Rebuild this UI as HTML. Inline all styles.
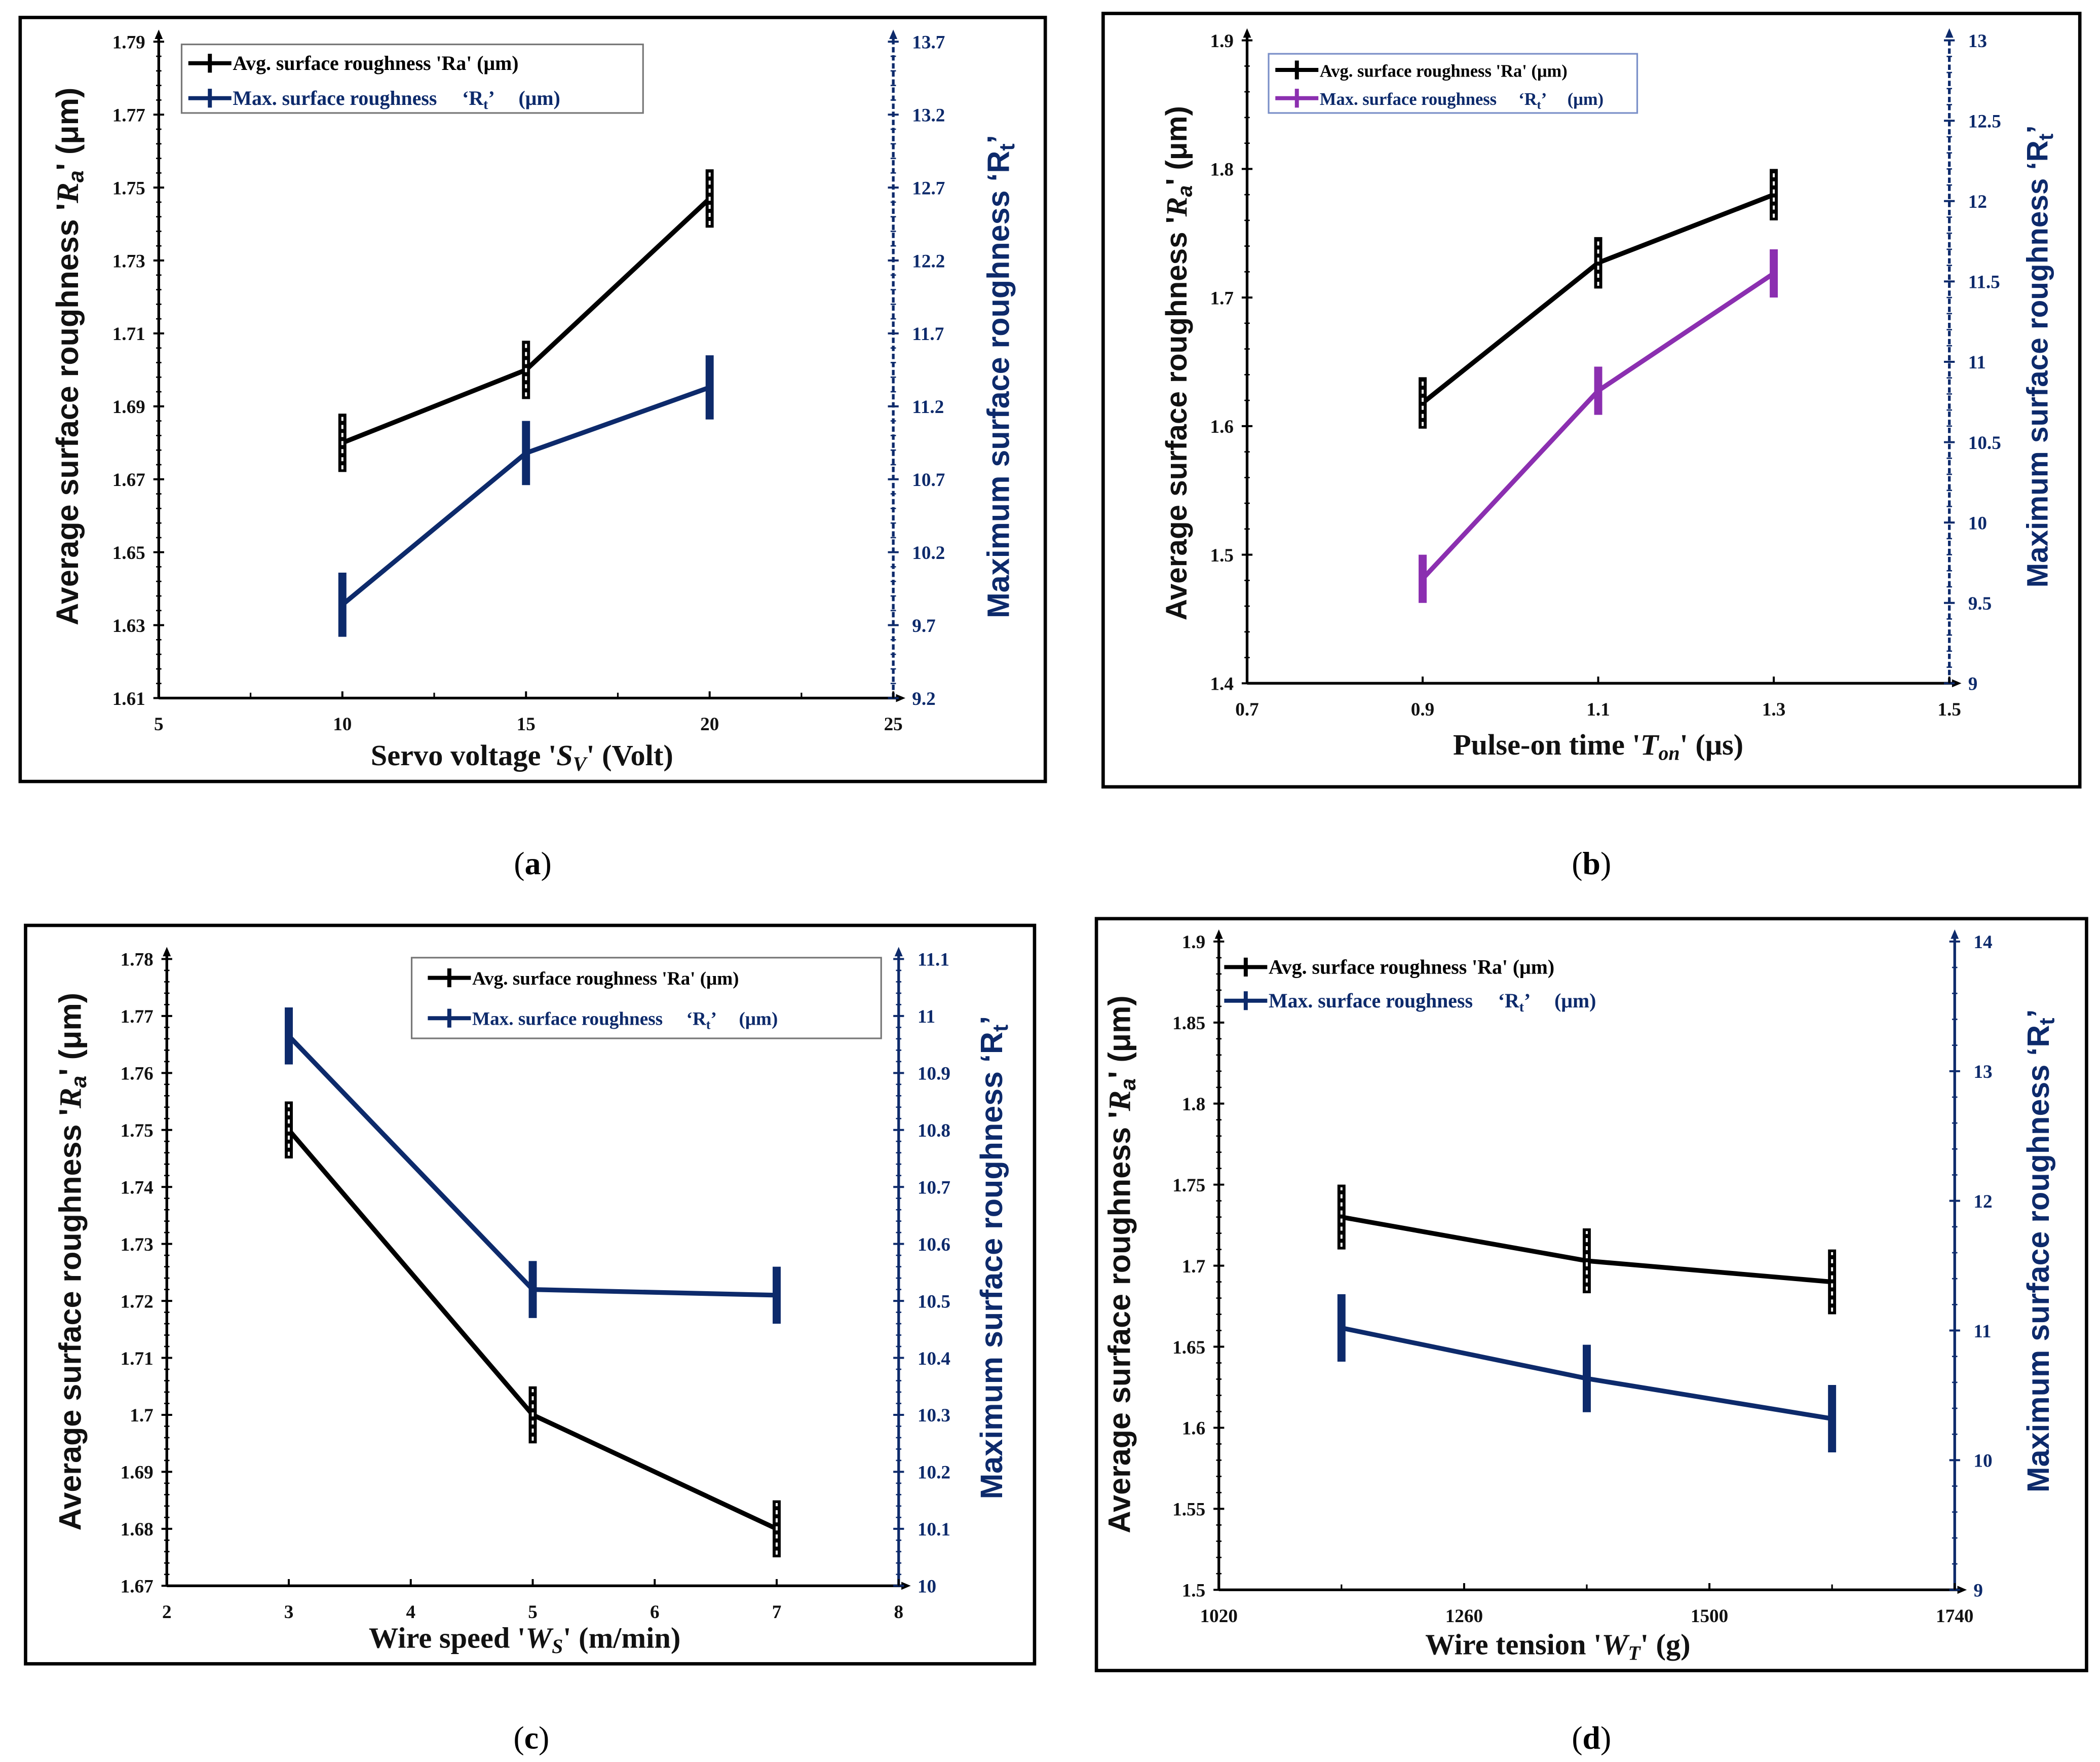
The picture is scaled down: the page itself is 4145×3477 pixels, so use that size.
<!DOCTYPE html>
<html><head><meta charset="utf-8"><style>
html,body{margin:0;padding:0;background:#fff;}
svg{display:block;}
.pre{white-space:pre;}
</style></head><body>
<svg id="root" width="4145" height="3477" viewBox="0 0 1561 1310" preserveAspectRatio="none" xmlns="http://www.w3.org/2000/svg"></svg>
<script>
// ---- Panel (a) data ----
const aX = [10, 15, 20];
const aRa = [1.680, 1.700, 1.747];
const aRaErr = [0.008, 0.008, 0.008];
const aRt = [9.84, 10.88, 11.33];
const aRtErr = [0.22, 0.22, 0.22];
const aXTicks = [5, 10, 15, 20, 25];
const aYTicks = [1.61, 1.63, 1.65, 1.67, 1.69, 1.71, 1.73, 1.75, 1.77, 1.79];
const aY2Ticks = [9.2, 9.7, 10.2, 10.7, 11.2, 11.7, 12.2, 12.7, 13.2, 13.7];
// ---- Panel (b) data ----
const bX = [0.9, 1.1, 1.3];
const bRa = [1.618, 1.727, 1.780];
const bRaErr = [0.02, 0.02, 0.02];
const bRt = [9.65, 10.82, 11.55];
const bRtErr = [0.15, 0.15, 0.15];
const bXTicks = [0.7, 0.9, 1.1, 1.3, 1.5];
const bYTicks = [1.4, 1.5, 1.6, 1.7, 1.8, 1.9];
const bY2Ticks = [9, 9.5, 10, 10.5, 11, 11.5, 12, 12.5, 13];
// ---- Panel (c) data ----
const cX = [3, 5, 7];
const cRa = [1.750, 1.700, 1.680];
const cRaErr = [0.005, 0.005, 0.005];
const cRt = [10.965, 10.52, 10.51];
const cRtErr = [0.05, 0.05, 0.05];
const cXTicks = [2, 3, 4, 5, 6, 7, 8];
const cYTicks = [1.67, 1.68, 1.69, 1.70, 1.71, 1.72, 1.73, 1.74, 1.75, 1.76, 1.77, 1.78];
const cY2Ticks = [10, 10.1, 10.2, 10.3, 10.4, 10.5, 10.6, 10.7, 10.8, 10.9, 11, 11.1];
// ---- Panel (d) data ----
const dX = [1140, 1380, 1620];
const dRa = [1.730, 1.703, 1.690];
const dRaErr = [0.02, 0.02, 0.02];
const dRt = [11.02, 10.63, 10.32];
const dRtErr = [0.26, 0.26, 0.26];
const dXTicks = [1020, 1260, 1500, 1740];
const dYTicks = [1.5, 1.55, 1.6, 1.65, 1.7, 1.75, 1.8, 1.85, 1.9];
const dY2Ticks = [9, 10, 11, 12, 13, 14];

const NS = 'http://www.w3.org/2000/svg';
const root = document.getElementById('root');
function el(tag, attrs, parent, text) {
  const e = document.createElementNS(NS, tag);
  for (const k in attrs) e.setAttribute(k, attrs[k]);
  if (text !== undefined) e.textContent = text;
  (parent || root).appendChild(e);
  return e;
}
const NAVY = '#0d2a6b';
const SERIF = '"Liberation Serif", serif';
const SANS = '"Liberation Sans", sans-serif';

function panel(cfg) {
  const g = el('g', {});
  
  
  const fr = el('rect', {x: cfg.frame[0], y: cfg.frame[1], width: cfg.frame[2]-cfg.frame[0], height: cfg.frame[3]-cfg.frame[1], fill: 'none', stroke: '#000', 'stroke-width': 2.5}, g);
  
  
  const L = cfg.L, R = cfg.R, B = cfg.B, T = cfg.T;
  const xs = v => L + (v - cfg.xr[0]) / (cfg.xr[1] - cfg.xr[0]) * (R - L);
  const ys = v => B - (v - cfg.yr[0]) / (cfg.yr[1] - cfg.yr[0]) * (B - T);
  const y2 = v => B - (v - cfg.y2r[0]) / (cfg.y2r[1] - cfg.y2r[0]) * (B - T);
  const la = el('line', {x1: L, y1: B, x2: L, y2: T - 6, stroke: '#000', 'stroke-width': 2}, g);
   
  el('path', {d: `M${L-3},${T-2} L${L},${T-9} L${L+3},${T-2}Z`, fill: '#000'}, g);
  const ra = el('line', {x1: R, y1: B, x2: R, y2: T - 6, stroke: NAVY, 'stroke-width': 2, 'stroke-dasharray': cfg.rdash || 'none'}, g);
   
  el('path', {d: `M${R-3},${T-2} L${R},${T-9} L${R+3},${T-2}Z`, fill: NAVY}, g);
  const xa = el('line', {x1: L, y1: B, x2: R + 6, y2: B, stroke: '#000', 'stroke-width': 2}, g);
   
  el('path', {d: `M${R+2},${B-3} L${R+9},${B} L${R+2},${B+3}Z`, fill: '#000'}, g);
  const yt = cfg.yTicks, y2t = cfg.y2Ticks, xt = cfg.xTicks;
  for (let i = 0; i < yt.length; i++) {
    el('line', {x1: L - 4, x2: L + 4, y1: ys(yt[i]), y2: ys(yt[i]), stroke: '#000', 'stroke-width': 1.5}, g);
    if (i < yt.length - 1) for (let k = 1; k < 5; k++) {
      const yy = ys(yt[i]) + (ys(yt[i+1]) - ys(yt[i])) * k / 5;
      el('line', {x1: L - 2, x2: L + 2, y1: yy, y2: yy, stroke: '#000', 'stroke-width': 1}, g);
    }
    const t = el('text', {x: L - 10, y: ys(yt[i]) + 5, 'text-anchor': 'end', 'font-family': SERIF, 'font-weight': 'bold', 'font-size': 14, fill: '#111'}, g, String(yt[i]));
     
  }
  for (let i = 0; i < y2t.length; i++) {
    el('line', {x1: R - 4, x2: R + 4, y1: y2(y2t[i]), y2: y2(y2t[i]), stroke: NAVY, 'stroke-width': 1.5}, g);
    if (i < y2t.length - 1) for (let k = 1; k < 5; k++) {
      const yy = y2(y2t[i]) + (y2(y2t[i+1]) - y2(y2t[i])) * k / 5;
      el('line', {x1: R - 2, x2: R + 2, y1: yy, y2: yy, stroke: NAVY, 'stroke-width': 1}, g);
    }
    const t = el('text', {x: R + 14, y: y2(y2t[i]) + 5, 'text-anchor': 'start', 'font-family': SERIF, 'font-weight': 'bold', 'font-size': 14, fill: NAVY}, g, String(y2t[i]));
     
  }
  for (let i = 0; i < xt.length; i++) {
    el('line', {x1: xs(xt[i]), x2: xs(xt[i]), y1: B, y2: B - 5, stroke: '#000', 'stroke-width': 1.5}, g);
    if (cfg.xMinor && i < xt.length - 1) {
      const mx = (xs(xt[i]) + xs(xt[i+1])) / 2;
      el('line', {x1: mx, x2: mx, y1: B, y2: B - 4, stroke: '#000', 'stroke-width': 1.2}, g);
    }
    const t = el('text', {x: xs(xt[i]), y: B + 24, 'text-anchor': 'middle', 'font-family': SERIF, 'font-weight': 'bold', 'font-size': 14, fill: '#111'}, g, String(xt[i]));
     
  }
  const rtPts = cfg.x.map((v, i) => xs(v) + ',' + y2(cfg.rt[i])).join(' ');
  const rl = el('polyline', {points: rtPts, fill: 'none', stroke: cfg.rtColor, 'stroke-width': 3.5}, g);
   
  cfg.x.forEach((v, i) => {
    const b = el('line', {x1: xs(v), x2: xs(v), y1: y2(cfg.rt[i] - cfg.rtErr[i]), y2: y2(cfg.rt[i] + cfg.rtErr[i]), stroke: cfg.rtColor, 'stroke-width': 6}, g);
     
  });
  const raPts = cfg.x.map((v, i) => xs(v) + ',' + ys(cfg.ra[i])).join(' ');
  const al = el('polyline', {points: raPts, fill: 'none', stroke: '#000', 'stroke-width': 3.5}, g);
   
  cfg.x.forEach((v, i) => {
    const b = el('line', {x1: xs(v), x2: xs(v), y1: ys(cfg.ra[i] - cfg.raErr[i]), y2: ys(cfg.ra[i] + cfg.raErr[i]), stroke: '#000', 'stroke-width': 6}, g);
     
    el('line', {x1: xs(v), x2: xs(v), y1: ys(cfg.ra[i] - cfg.raErr[i]) - 2, y2: ys(cfg.ra[i] + cfg.raErr[i]) + 2, stroke: '#fff', 'stroke-width': 1.5, 'stroke-dasharray': '3,3'}, g);
  });
  const lg = el('g', {}, g);
   
  if (cfg.legBox) el('rect', {x: cfg.legBox[0], y: cfg.legBox[1], width: cfg.legBox[2], height: cfg.legBox[3], fill: '#fff', stroke: cfg.legStroke, 'stroke-width': 1.2}, lg);
  const lx = cfg.leg[0], ly = cfg.leg[1], lgap = cfg.leg[2], lfs = cfg.leg[3];
  [['#000', "Avg. surface roughness 'Ra' (μm)", 'legend-entry-ra'], [cfg.rtColor, null, 'legend-entry-rt']].forEach((e, k) => {
    const yy = ly + k * lgap;
    const eg = el('g', {}, lg);
     
    el('line', {x1: lx, x2: lx + 32, y1: yy - 4, y2: yy - 4, stroke: e[0], 'stroke-width': 3}, eg);
    el('line', {x1: lx + 16, x2: lx + 16, y1: yy - 11, y2: yy + 3, stroke: e[0], 'stroke-width': 3}, eg);
    const tcol = k === 0 ? '#000' : NAVY;
    if (e[1]) el('text', {x: lx + 33, y: yy + 1, 'font-family': SERIF, 'font-weight': 'bold', 'font-size': lfs, fill: tcol}, eg, e[1]);
    else {
      const t = el('text', {x: lx + 33, y: yy + 1, 'font-family': SERIF, 'font-weight': 'bold', 'font-size': lfs, fill: tcol, 'class': 'pre'}, eg);
      t.appendChild(document.createTextNode('Max. surface roughness     ‘R'));
      el('tspan', {'font-size': lfs * 0.7, dy: 3}, t, 't');
      el('tspan', {dy: -3, 'class': 'pre'}, t, '’     (μm)');
    }
  });
  const ltx = cfg.ltitle[0], lty = cfg.ltitle[1];
  const lt = el('text', {x: 0, y: 0, transform: `translate(${ltx},${lty}) rotate(-90)`, 'text-anchor': 'middle', 'font-family': SANS, 'font-weight': 'bold', 'font-size': cfg.tfs, fill: '#111'}, g);
   
  lt.appendChild(document.createTextNode("Average surface roughness '"));
  el('tspan', {'font-style': 'italic', 'font-family': SERIF}, lt, 'R');
  el('tspan', {'font-style': 'italic', 'font-size': cfg.tfs * 0.7, dy: 4}, lt, 'a');
  el('tspan', {dy: -4}, lt, "' (μm)");
  const rtx = cfg.rtitle[0], rty = cfg.rtitle[1];
  const rt = el('text', {x: 0, y: 0, transform: `translate(${rtx},${rty}) rotate(-90)`, 'text-anchor': 'middle', 'font-family': SANS, 'font-weight': 'bold', 'font-size': cfg.tfs, fill: NAVY}, g);
   
  rt.appendChild(document.createTextNode('Maximum surface roughness ‘R'));
  el('tspan', {'font-size': cfg.tfs * 0.7, dy: 4}, rt, 't');
  el('tspan', {dy: -4}, rt, '’');
  const xt2 = el('text', {x: cfg.xtitle[0], y: cfg.xtitle[1], 'text-anchor': 'middle', 'font-family': SERIF, 'font-weight': 'bold', 'font-size': 22, fill: '#111'}, g);
   
  xt2.appendChild(document.createTextNode(cfg.xlab[0] + " '"));
  el('tspan', {'font-style': 'italic'}, xt2, cfg.xlab[1]);
  el('tspan', {'font-style': 'italic', 'font-size': 15, dy: 4}, xt2, cfg.xlab[2]);
  el('tspan', {dy: -4}, xt2, "' " + cfg.xlab[3]);
  const cap = el('text', {x: cfg.cap[0], y: cfg.cap[1], 'text-anchor': 'middle', 'font-family': SERIF, 'font-size': 24, fill: '#000'}, g);
   
  cap.appendChild(document.createTextNode('('));
  el('tspan', {'font-weight': 'bold'}, cap, cfg.id);
  cap.appendChild(document.createTextNode(')'));
}

panel({id: 'a', frame: [15, 13, 777, 581], L: 118, R: 664, B: 519, T: 31,
  xr: [5, 25], yr: [1.61, 1.79], y2r: [9.2, 13.7], x: aX, ra: aRa, raErr: aRaErr, rt: aRt, rtErr: aRtErr,
  xTicks: aXTicks, yTicks: aYTicks, y2Ticks: aY2Ticks, xMinor: true, rtColor: NAVY, rdash: '4,2',
  legBox: [135, 33, 343, 51], legStroke: '#777', leg: [140, 51, 26, 15],
  ltitle: [58, 265], rtitle: [750, 280], tfs: 23, xtitle: [388, 569], xlab: ['Servo voltage', 'S', 'V', '(Volt)'], cap: [396, 650]});
panel({id: 'b', frame: [820, 10, 1546, 585], L: 927, R: 1449, B: 508, T: 30,
  xr: [0.7, 1.5], yr: [1.4, 1.9], y2r: [9, 13], x: bX, ra: bRa, raErr: bRaErr, rt: bRt, rtErr: bRtErr,
  xTicks: bXTicks, yTicks: bYTicks, y2Ticks: bY2Ticks, xMinor: false, rtColor: '#8b2fb0', rdash: '4,2',
  legBox: [943, 40, 274, 44], legStroke: '#7a8fc8', leg: [948, 56, 21, 13],
  ltitle: [882, 270], rtitle: [1522, 265], tfs: 22, xtitle: [1188, 561], xlab: ['Pulse-on time', 'T', 'on', '(μs)'], cap: [1183, 650]});
panel({id: 'c', frame: [19, 688, 769, 1237], L: 124, R: 668, B: 1179, T: 713,
  xr: [2, 8], yr: [1.67, 1.78], y2r: [10, 11.1], x: cX, ra: cRa, raErr: cRaErr, rt: cRt, rtErr: cRtErr,
  xTicks: cXTicks, yTicks: cYTicks, y2Ticks: cY2Ticks, xMinor: false, rtColor: NAVY, rdash: 'none',
  legBox: [306, 712, 349, 60], legStroke: '#777', leg: [318, 731, 30, 14],
  ltitle: [60, 938], rtitle: [745, 935], tfs: 23, xtitle: [390, 1225], xlab: ['Wire speed', 'W', 'S', '(m/min)'], cap: [395, 1300]});
panel({id: 'd', frame: [815, 683, 1551, 1242], L: 906, R: 1453, B: 1182, T: 700,
  xr: [1020, 1740], yr: [1.5, 1.9], y2r: [9, 14], x: dX, ra: dRa, raErr: dRaErr, rt: dRt, rtErr: dRtErr,
  xTicks: dXTicks, yTicks: dYTicks, y2Ticks: dY2Ticks, xMinor: true, rtColor: NAVY, rdash: 'none',
  legBox: null, legStroke: 'none', leg: [910, 723, 25, 15],
  ltitle: [840, 940], rtitle: [1523, 930], tfs: 23, xtitle: [1158, 1230], xlab: ['Wire tension', 'W', 'T', '(g)'], cap: [1183, 1300]});
</script>
</body></html>
